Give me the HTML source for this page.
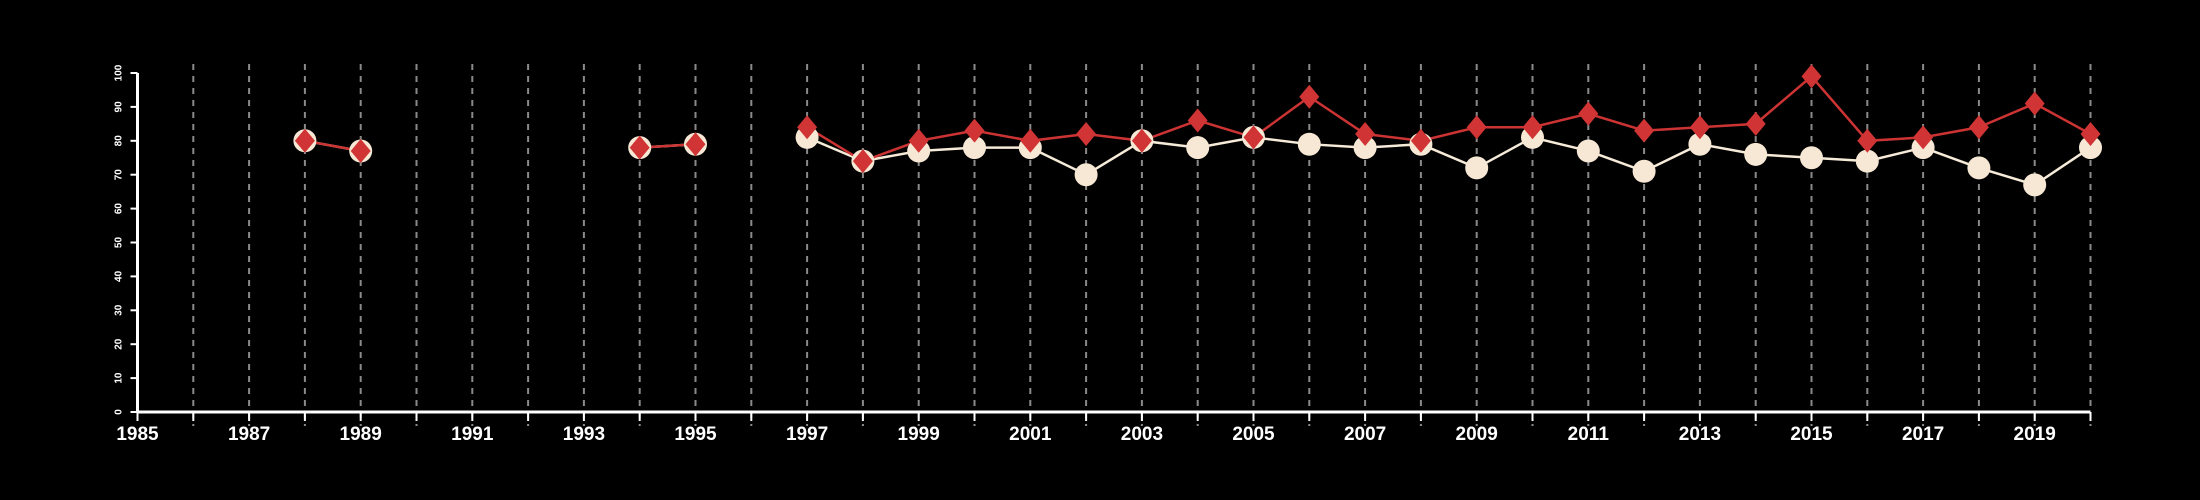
<!DOCTYPE html>
<html><head><meta charset="utf-8"><style>
html,body{margin:0;padding:0;background:#000;}
svg{display:block;}
text{font-family:"Liberation Sans",sans-serif;fill:#fff;}
</style></head><body>
<svg id="chart" width="2200" height="500" viewBox="0 0 2200 500" xmlns="http://www.w3.org/2000/svg">
<rect width="2200" height="500" fill="#000"/>
<g id="grid"></g>
<g id="axes"></g>
<g id="series"></g>
</svg>
<script>
const years = [1985,1986,1987,1988,1989,1990,1991,1992,1993,1994,1995,1996,1997,1998,1999,2000,2001,2002,2003,2004,2005,2006,2007,2008,2009,2010,2011,2012,2013,2014,2015,2016,2017,2018,2019,2020];
const redValues = [null,null,null,80,77,null,null,null,null,78,79,null,84,74,80,83,80,82,80,86,81,93,82,80,84,84,88,83,84,85,99,80,81,84,91,82];
const whiteValues = [null,null,null,80,77,null,null,null,null,78,79,null,81,74,77,78,78,70,80,78,81,79,78,79,72,81,77,71,79,76,75,74,78,72,67,78];
const yTicks = [0,10,20,30,40,50,60,70,80,90,100];
const xLabelYears = [1985,1987,1989,1991,1993,1995,1997,1999,2001,2003,2005,2007,2009,2011,2013,2015,2017,2019];

const NS = "http://www.w3.org/2000/svg";
const x0 = 137.5, x1 = 2090.5, yBase = 412, yTop = 73;
function xs(yr){ return x0 + (yr - 1985) * (x1 - x0) / 35; }
function ys(v){ return yBase - v * (yBase - yTop) / 100; }
function mk(tag, attrs, parent){ const e = document.createElementNS(NS, tag); for (const k in attrs) e.setAttribute(k, attrs[k]); parent.appendChild(e); return e; }

const grid = document.getElementById('grid');
const axes = document.getElementById('axes');
const series = document.getElementById('series');

years.forEach(yr => {
  if (yr === 1985) return;
  const l = mk('line', {x1: xs(yr), x2: xs(yr), y1: 64, y2: 426, stroke: '#8a8a8a', 'stroke-width': 2, 'stroke-dasharray': '6,6'}, grid);
  
  
});

// x axis
const xa = mk('line', {x1: x0, x2: x1, y1: yBase, y2: yBase, stroke: '#fff', 'stroke-width': 3}, axes);


years.forEach(yr => {
  const t = mk('line', {x1: xs(yr), x2: xs(yr), y1: yBase, y2: yBase + 9, stroke: '#fff', 'stroke-width': 2}, axes);
  
  
});
xLabelYears.forEach(yr => {
  const t = mk('text', {x: xs(yr), y: 440, 'text-anchor': 'middle', 'font-size': 19, 'font-weight': 'bold'}, axes);
  t.textContent = yr;
  
  
});
// y axis
const ya = mk('line', {x1: x0, x2: x0, y1: yTop, y2: yBase, stroke: '#fff', 'stroke-width': 3}, axes);


yTicks.forEach(v => {
  const t = mk('line', {x1: x0 - 7, x2: x0, y1: ys(v), y2: ys(v), stroke: '#fff', 'stroke-width': 2}, axes);
  
  
  const lb = mk('text', {x: 0, y: 0, 'text-anchor': 'middle', 'font-size': 10, 'font-weight': 'bold', transform: 'translate(' + (x0 - 16) + ',' + ys(v) + ') rotate(-90)'}, axes);
  lb.textContent = v;
  
  
});

function drawLines(vals, color, name){
  let seg = [];
  const flush = () => {
    if (seg.length > 1) {
      const p = mk('polyline', {points: seg.join(' '), fill: 'none', stroke: color, 'stroke-width': 2.5}, series);
      
      
    }
    seg = [];
  };
  vals.forEach((v, i) => { if (v === null) flush(); else seg.push(xs(years[i]) + ',' + ys(v)); });
  flush();
}
drawLines(whiteValues, '#f6ead8', 'white-series');
drawLines(redValues, '#cc3333', 'red-series');

whiteValues.forEach((v, i) => {
  if (v === null) return;
  const c = mk('circle', {cx: xs(years[i]), cy: ys(v), r: 11.5, fill: '#f6e8d4'}, series);
  
  
});
redValues.forEach((v, i) => {
  if (v === null) return;
  const x = xs(years[i]), y = ys(v);
  const d = mk('polygon', {points: x + ',' + (y - 12) + ' ' + (x + 10) + ',' + y + ' ' + x + ',' + (y + 12) + ' ' + (x - 10) + ',' + y, fill: '#d03434'}, series);
  
  
});
</script>
</body></html>
